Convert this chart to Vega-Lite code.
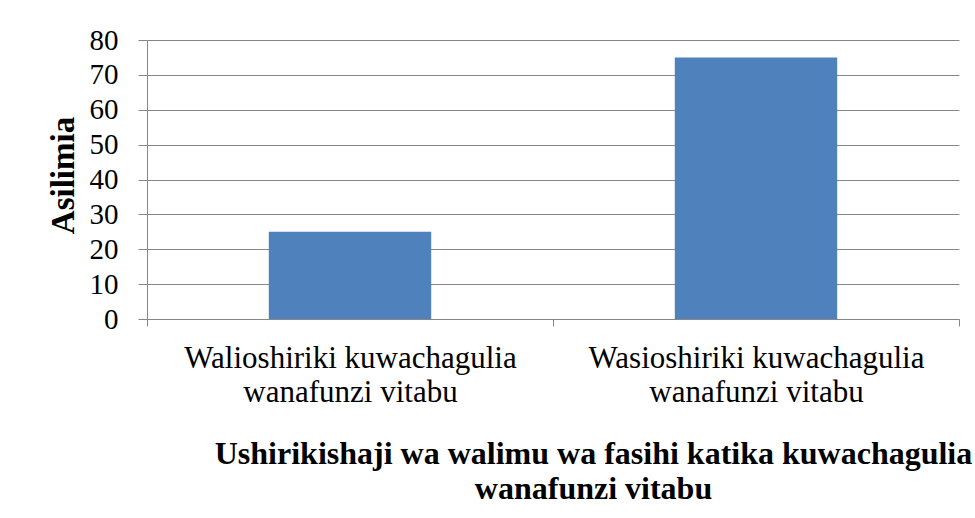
{
  "$schema": "https://vega.github.io/schema/vega-lite/v6.json",
  "width": 812,
  "height": 279,
  "autosize": "none",
  "padding": {"left": 147, "top": 40, "right": 16, "bottom": 199},
  "background": "white",
  "config": {
    "view": {"stroke": null},
    "font": "Liberation Serif"
  },
  "data": {
    "values": [
      {"kundi": "Walioshiriki kuwachagulia|wanafunzi vitabu", "asilimia": 25},
      {"kundi": "Wasioshiriki kuwachagulia|wanafunzi vitabu", "asilimia": 75}
    ]
  },
  "mark": {"type": "bar", "color": "#4F81BD", "width": {"band": 0.4}},
  "encoding": {
    "x": {
      "field": "kundi",
      "type": "nominal",
      "sort": null,
      "scale": {"paddingInner": 0, "paddingOuter": 0},
      "axis": {
        "title": ["Ushirikishaji wa walimu wa fasihi katika kuwachagulia", "wanafunzi vitabu"],
        "titleFont": "Liberation Serif",
        "titleFontSize": 32,
        "titleFontWeight": "bold",
        "titleColor": "black",
        "titleX": 446,
        "titleY": 144,
        "titleBaseline": "alphabetic",
        "titleAlign": "center",
        "titleLineHeight": 35,
        "labelAngle": 0,
        "labelExpr": "split(datum.label, '|')",
        "labelFont": "Liberation Serif",
        "labelFontSize": 31,
        "labelColor": "black",
        "labelLineHeight": 34,
        "labelPadding": 17,
        "labelLimit": 0,
        "tickBand": "extent",
        "tickSize": 7,
        "tickColor": "#868686",
        "domainColor": "#868686",
        "grid": false
      }
    },
    "y": {
      "field": "asilimia",
      "type": "quantitative",
      "scale": {"domain": [0, 80]},
      "axis": {
        "title": "Asilimia",
        "titleFont": "Liberation Serif",
        "titleFontSize": 33,
        "titleFontWeight": "bold",
        "titleColor": "black",
        "titleX": -74,
        "titleY": 135,
        "titleBaseline": "alphabetic",
        "titleAlign": "center",
        "values": [0, 10, 20, 30, 40, 50, 60, 70, 80],
        "labelFont": "Liberation Serif",
        "labelFontSize": 29,
        "labelColor": "black",
        "labelPadding": 20,
        "tickSize": 9,
        "tickColor": "#868686",
        "domainColor": "#868686",
        "grid": true,
        "gridColor": "#868686",
        "gridOpacity": 1
      }
    }
  }
}
